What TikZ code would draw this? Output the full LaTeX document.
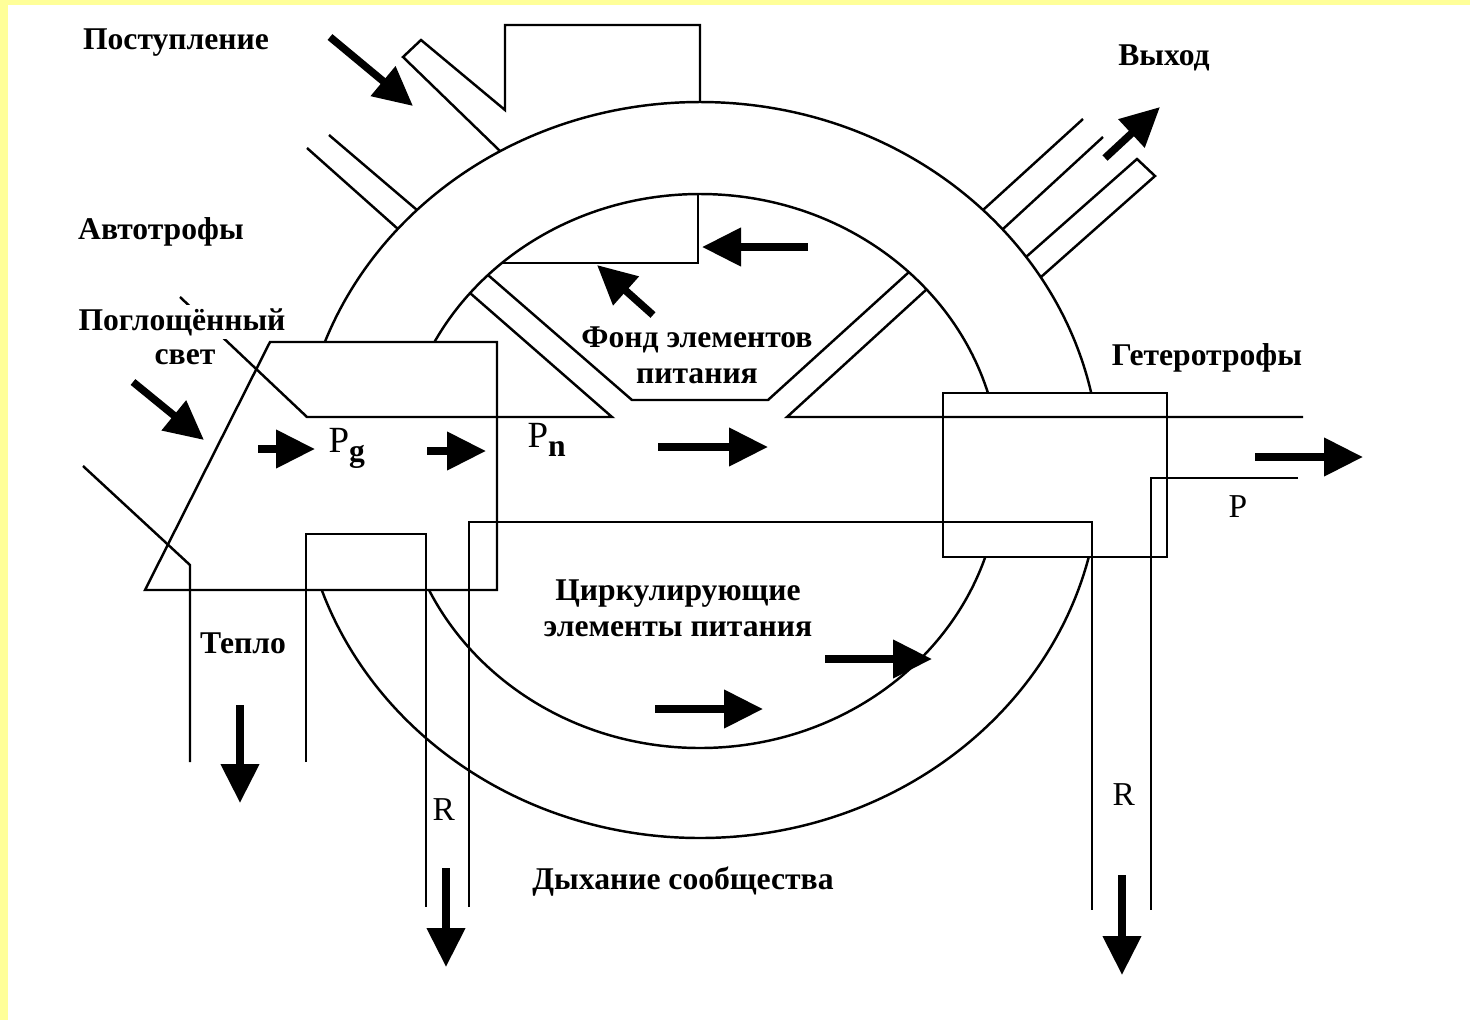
\documentclass[tikz,border=0pt]{standalone}
\usepackage{fontspec}
\setmainfont{Liberation Serif}
\usetikzlibrary{arrows.meta}
\definecolor{paleyellow}{RGB}{255,255,153}

\begin{document}
\begin{tikzpicture}[x=0.1mm,y=-0.1mm,
	wire/.style={line width=0.7pt},
	flow/.style={line width=0.75mm, -{Triangle[length=3.9mm,width=3.7mm]}},
	lbl/.style={font=\fontsize{9}{10.2}\selectfont\bfseries, align=center, inner sep=0pt},
	sym/.style={font=\fontsize{9.5}{11}\selectfont, inner sep=0pt, anchor=base west}]
%background
	\useasboundingbox (0,0) rectangle (1470,1020);
	\fill[paleyellow] (0,0) rectangle (1470,1020);
	\fill[white] (8,5) rectangle (1470,1020);

	%rings
	\draw[wire] (700,470) ellipse [x radius=400, y radius=368];
	\draw[wire] (700,471) ellipse [x radius=300, y radius=277];

	%boxes
	\filldraw[wire, fill=white] (270,342) -- (497,342) -- (497,590) -- (145,590) -- cycle;
	\filldraw[wire, fill=white] (943,393) rectangle (1167,557);

	%inlet and stubs
	\draw[wire] (500,151) -- (403,57) -- (421,40) -- (505,110) -- (505,25) -- (700,25) -- (700,102);
	\draw[wire] (307,148) -- (398,229);
	\draw[wire] (329,135) -- (417,210);
	\draw[wire] (983,210) -- (1083,119);
	\draw[wire] (1003,229) -- (1103,137);
	\draw[wire] (1026,257) -- (1137,159) -- (1155,176) -- (1041,277);

	%nutrient pool
	\draw[wire] (502,263) -- (698,263) -- (698,194);
	\draw[wire] (488,275) -- (632,400) -- (768,400) -- (909,272);
	\draw[wire] (180,297) -- (307,417) -- (612,417) -- (470,293);
	\draw[wire] (1303,417) -- (787,417) -- (927,289);

	%outlets
	\draw[wire] (83,466) -- (190,565) -- (190,762);
	\draw[wire] (306,762) -- (306,534) -- (426,534) -- (426,907);
	\draw[wire] (469,907) -- (469,522) -- (1092,522) -- (1092,910);
	\draw[wire] (1298,478) -- (1151,478) -- (1151,910);

	%flows
	\draw[flow] (330,37) -- (413,106);
	\draw[flow] (133,382) -- (204,440);
	\draw[flow] (258,449) -- (315,449);
	\draw[flow] (427,451) -- (486,451);
	\draw[flow] (658,447) -- (768,447);
	\draw[flow] (808,247) -- (702,247);
	\draw[flow] (653,315) -- (597,265);
	\draw[flow] (1105,158) -- (1160,107);
	\draw[flow] (1255,457) -- (1363,457);
	\draw[flow] (825,659) -- (932,659);
	\draw[flow] (655,709) -- (763,709);
	\draw[flow] (240,705) -- (240,803);
	\draw[flow] (446,868) -- (446,967);
	\draw[flow] (1122,875) -- (1122,975);

	%labels
	\node[lbl] (inflow) at (176,43) {Поступление};
	\node[lbl] (auto) at (161,232) {Автотрофы};
	\node[lbl, fill=white, inner sep=1pt] (light) at (182,322) {Поглощённый};
	\node[lbl] (light2) at (185,357) {свет};
	\node[lbl] (outflow) at (1164,58) {Выход};
	\node[lbl] (pool) at (697,355) {Фонд элементов\\питания};
	\node[lbl] (hetero) at (1207,358) {Гетеротрофы};
	\node[lbl] (circ) at (678,608) {Циркулирующие\\элементы питания};
	\node[lbl] (heat) at (243,643) {Тепло};
	\node[lbl] (resp) at (683,882) {Дыхание сообщества};
	\node[sym, font=\fontsize{10.5}{12}\selectfont] (pg) at (328,452) {P\raisebox{-0.55ex}{\fontsize{9}{9}\selectfont\bfseries g}};
	\node[sym, font=\fontsize{10.5}{12}\selectfont] (pn) at (527,447) {P\raisebox{-0.55ex}{\fontsize{9}{9}\selectfont\bfseries n}};
	\node[sym] (r1) at (432,820) {R};
	\node[sym] (r2) at (1112,805) {R};
	\node[sym] (p) at (1228,517) {P};
\end{tikzpicture}
\end{document}
